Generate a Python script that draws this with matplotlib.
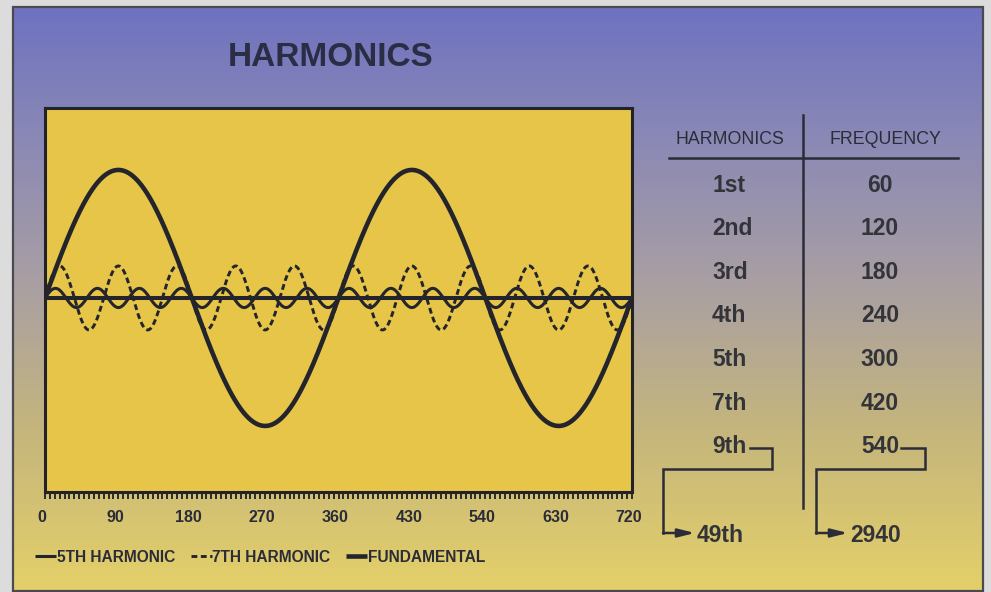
import numpy as np
import matplotlib
matplotlib.use("Agg")
import matplotlib.pyplot as plt
from matplotlib.colors import LinearSegmentedColormap
from matplotlib.patches import Rectangle
from matplotlib.lines import Line2D
from matplotlib.ticker import MultipleLocator
import matplotlib.transforms as mtransforms

# ---------------- data ----------------
title = "HARMONICS"
series_labels = ["5TH HARMONIC", "7TH HARMONIC", "FUNDAMENTAL"]
cycles_per_360 = [7, 5, 1]          # oscillations per 360 degrees as drawn
amplitudes = [0.075, 0.25, 1.0]     # relative to fundamental
line_styles = ["-", (0, (2.0, 1.2)), "-"]
line_widths = [2.2, 2.1, 3.3]

tick_positions = [0, 90, 180, 270, 360, 450, 540, 630, 720]
tick_labels = ["0", "90", "180", "270", "360", "430", "540", "630", "720"]

table_headers = ["HARMONICS", "FREQUENCY"]
harmonic_names = ["1st", "2nd", "3rd", "4th", "5th", "7th", "9th"]
frequencies = ["60", "120", "180", "240", "300", "420", "540"]
last_harmonic = "49th"
last_frequency = "2940"

# ---------------- figure ----------------
W, H = 991, 592
fig = plt.figure(figsize=(W / 100, H / 100), dpi=100, facecolor="#dcdcdc")
ink = "#2b2c38"
fonts = ["Liberation Sans", "DejaVu Sans"]

# background overlay axes in pixel coordinates
bg = fig.add_axes([0, 0, 1, 1], zorder=0)
bg.set_xlim(0, W)
bg.set_ylim(H, 0)
bg.axis("off")

stops = [(0.0, (110/255, 114/255, 192/255)),
         (0.22, (138/255, 136/255, 182/255)),
         (0.48, (170/255, 160/255, 162/255)),
         (0.72, (196/255, 181/255, 125/255)),
         (1.0, (228/255, 208/255, 105/255))]
cmap = LinearSegmentedColormap.from_list("bggrad", stops)
grad = np.linspace(0, 1, 256).reshape(-1, 1)
bg.imshow(grad, cmap=cmap, extent=(13, 983, 591, 7), aspect="auto",
          interpolation="bilinear", zorder=0)
bg.add_patch(Rectangle((13, 7), 970, 584, fill=False, edgecolor="#4a4a50",
                       lw=1.6, zorder=1))
bg.set_xlim(0, W)
bg.set_ylim(H, 0)

# title
bg.text(331, 57, title, ha="center", va="center", fontsize=24,
        fontweight="bold", family=fonts, color="#2b2d45", zorder=3)

# ---------------- main plot ----------------
ax_l, ax_r, ax_t, ax_b = 45, 632, 108, 492
ax = fig.add_axes([ax_l / W, 1 - ax_b / H, (ax_r - ax_l) / W, (ax_b - ax_t) / H],
                  zorder=2)
ax.set_facecolor("#e7c549")

deg = np.linspace(0, 720, 2881)
for lab, n, a, ls, lw in zip(series_labels, cycles_per_360, amplitudes,
                             line_styles, line_widths):
    ax.plot(deg, a * np.sin(np.deg2rad(n * deg)), color="#24252c",
            linestyle=ls, lw=lw, label=lab, solid_capstyle="butt")
ax.axhline(0, color="#24252c", lw=2.9, zorder=3)

ax.set_xlim(0, 720)
ax.set_ylim(-1.516, 1.484)
ax.set_yticks([])
ax.set_xticks(tick_positions)
ax.set_xticklabels(tick_labels)
ax.xaxis.set_minor_locator(MultipleLocator(6))
ax.tick_params(axis="x", which="both", direction="out", length=5, width=1.4,
               color="#2a2a30", pad=8)
for lbl in ax.get_xticklabels():
    lbl.set_fontfamily(fonts)
    lbl.set_fontweight("bold")
    lbl.set_fontsize(11.5)
    lbl.set_color(ink)
    lbl.set_transform(lbl.get_transform() +
                      mtransforms.ScaledTranslation(-3 / 100, 0, fig.dpi_scale_trans))
for sp in ax.spines.values():
    sp.set_linewidth(2.2)
    sp.set_color("#222228")

# legend
handles, labels = ax.get_legend_handles_labels()
leg = fig.legend(handles, labels, loc="center left",
                 bbox_to_anchor=(35 / W, 1 - 557 / H), ncol=3, frameon=False,
                 handlelength=1.35, handletextpad=0.05, columnspacing=1.0,
                 borderpad=0, borderaxespad=0,
                 prop={"family": fonts, "weight": "bold", "size": 11.2})
for t in leg.get_texts():
    t.set_color(ink)

# ---------------- table ----------------
hdr_font = dict(family=fonts, fontsize=12.8, color=ink, va="center")
bg.text(730, 139, table_headers[0], ha="center", **hdr_font, zorder=3)
bg.text(885, 139, table_headers[1], ha="center", **hdr_font, zorder=3)
bg.add_line(Line2D([669, 958], [158, 158], color=ink, lw=1.8, zorder=3))
bg.add_line(Line2D([803, 803], [115, 508], color=ink, lw=1.8, zorder=3))

row_font = dict(family=fonts, fontsize=16.5, fontweight="bold",
                color="#33333a", va="center")
row_y0, row_dy = 185, 43.6
for i, (hn, fq) in enumerate(zip(harmonic_names, frequencies)):
    y = row_y0 + i * row_dy
    bg.text(712, y, hn, ha="left", **row_font, zorder=3)
    bg.text(880, y, fq, ha="center", **row_font, zorder=3)

# connectors to 49th / 2940
yl = row_y0 + 6 * row_dy + 1
arrow = dict(arrowstyle="-|>,head_length=1.0,head_width=0.25",
             color=ink, lw=1.8, shrinkA=0, shrinkB=0)
bg.add_line(Line2D([750, 772, 772, 663, 663], [yl, yl, 469, 469, 533],
                   color=ink, lw=1.8, zorder=3, solid_joinstyle="miter"))
bg.annotate("", xy=(695, 533), xytext=(663, 533), arrowprops=arrow, zorder=3)
bg.text(697, 535, last_harmonic, ha="left", **row_font, zorder=3)

bg.add_line(Line2D([901, 925, 925, 816, 816], [yl, yl, 469, 469, 533],
                   color=ink, lw=1.8, zorder=3, solid_joinstyle="miter"))
bg.annotate("", xy=(848, 533), xytext=(816, 533), arrowprops=arrow, zorder=3)
bg.text(850, 535, last_frequency, ha="left", **row_font, zorder=3)

fig.savefig("out.png", dpi=100, facecolor=fig.get_facecolor())
